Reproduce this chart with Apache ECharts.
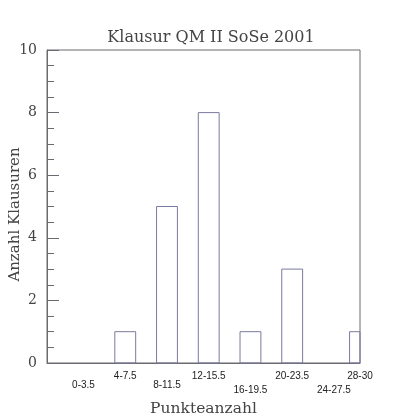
<!DOCTYPE html>
<html>
<head>
<meta charset="utf-8">
<script src="https://cdn.jsdelivr.net/npm/echarts@6/dist/echarts.min.js"></script>
<style>
  html, body { margin: 0; padding: 0; background: #fff; }
  #chart { width: 399px; height: 420px; }
</style>
</head>
<body>
<div id="chart"></div>
<script>
const categories = ['0-3.5', '4-7.5', '8-11.5', '12-15.5', '16-19.5', '20-23.5', '24-27.5', '28-30'];
const upperBounds = [3.5, 7.5, 11.5, 15.5, 19.5, 23.5, 27.5, 30];
const counts = [0, 1, 5, 8, 1, 3, 0, 1];
const labelLevels = [1, 0, 1, 0, 2, 0, 2, 0]; // gestaffelte Beschriftung
const barSpan = 2; // Balkenbreite in Punkten

const chartDom = document.getElementById('chart');
const myChart = echarts.init(chartDom);

const serif = 'DejaVu Serif';

// Balken als Rechteck, am Rand des Plotbereichs abgeschnitten
const renderBar = (params, api) => {
    const x = api.value(0);
    const y = api.value(1);
    if (!y) return null;
    const p0 = api.coord([x - barSpan / 2, y]);
    const p1 = api.coord([x + barSpan / 2, 0]);
    const rect = echarts.graphic.clipRectByRect(
        { x: p0[0], y: p0[1], width: p1[0] - p0[0], height: p1[1] - p0[1] },
        { x: params.coordSys.x, y: params.coordSys.y, width: params.coordSys.width, height: params.coordSys.height }
    );
    if (!rect) return null;
    return {
        type: 'rect',
        shape: rect,
        style: { fill: null, stroke: '#7a7a9e', lineWidth: 1 }
    };
};

const option = {
    animation: false,
    title: {
        text: 'Klausur QM II SoSe 2001',
        left: 206,
        top: 25,
        textAlign: 'center',
        textStyle: { fontFamily: serif, fontSize: 16, fontWeight: 'normal', color: '#444' }
    },
    grid: {
        left: 47, right: 39, top: 50, bottom: 57,
        outerBoundsMode: 'none',
        containLabel: false,
        show: true,
        borderColor: '#6a6a70',
        borderWidth: 1
    },
    xAxis: {
        type: 'value',
        min: 0,
        max: 30,
        name: 'Punkteanzahl',
        nameLocation: 'middle',
        nameGap: 38,
        nameMoveOverlap: false,
        nameTextStyle: { fontFamily: serif, fontSize: 15.5, color: '#444' },
        splitLine: { show: false },
        axisLine: { lineStyle: { color: '#6a6a70' } },
        axisTick: { show: false },
        axisLabel: {
            customValues: upperBounds,
            margin: 8,
            formatter: (v) => {
                const i = upperBounds.indexOf(v);
                return i < 0 ? '' : '{l' + labelLevels[i] + '|' + categories[i] + '}';
            },
            rich: {
                l0: { fontFamily: 'Liberation Sans', fontSize: 10, color: '#222', padding: [0, 0, 0, 0] },
                l1: { fontFamily: 'Liberation Sans', fontSize: 10, color: '#222', padding: [9, 0, 0, 0] },
                l2: { fontFamily: 'Liberation Sans', fontSize: 10, color: '#222', padding: [14, 0, 0, 0] }
            }
        }
    },
    yAxis: {
        type: 'value',
        min: 0,
        max: 10,
        interval: 2,
        name: 'Anzahl Klausuren',
        nameLocation: 'middle',
        nameGap: 24,
        nameMoveOverlap: false,
        nameTextStyle: { fontFamily: serif, fontSize: 15, color: '#444', padding: [0, 16, 0, 0] },
        splitLine: { show: false },
        axisLine: { lineStyle: { color: '#6a6a70' } },
        axisTick: { inside: true, length: 12, lineStyle: { color: '#6a6a70' } },
        minorTick: { show: true, splitNumber: 4, length: 7, lineStyle: { color: '#6a6a70' } },
        axisLabel: { margin: 10, fontFamily: serif, fontSize: 14, color: '#444' }
    },
    series: [{
        name: 'Anzahl',
        type: 'custom',
        renderItem: renderBar,
        data: upperBounds.map((x, i) => [x, counts[i]]),
        encode: { x: 0, y: 1 }
    }]
};

myChart.setOption(option);
window.addEventListener('resize', () => myChart.resize());
</script>
</body>
</html>
